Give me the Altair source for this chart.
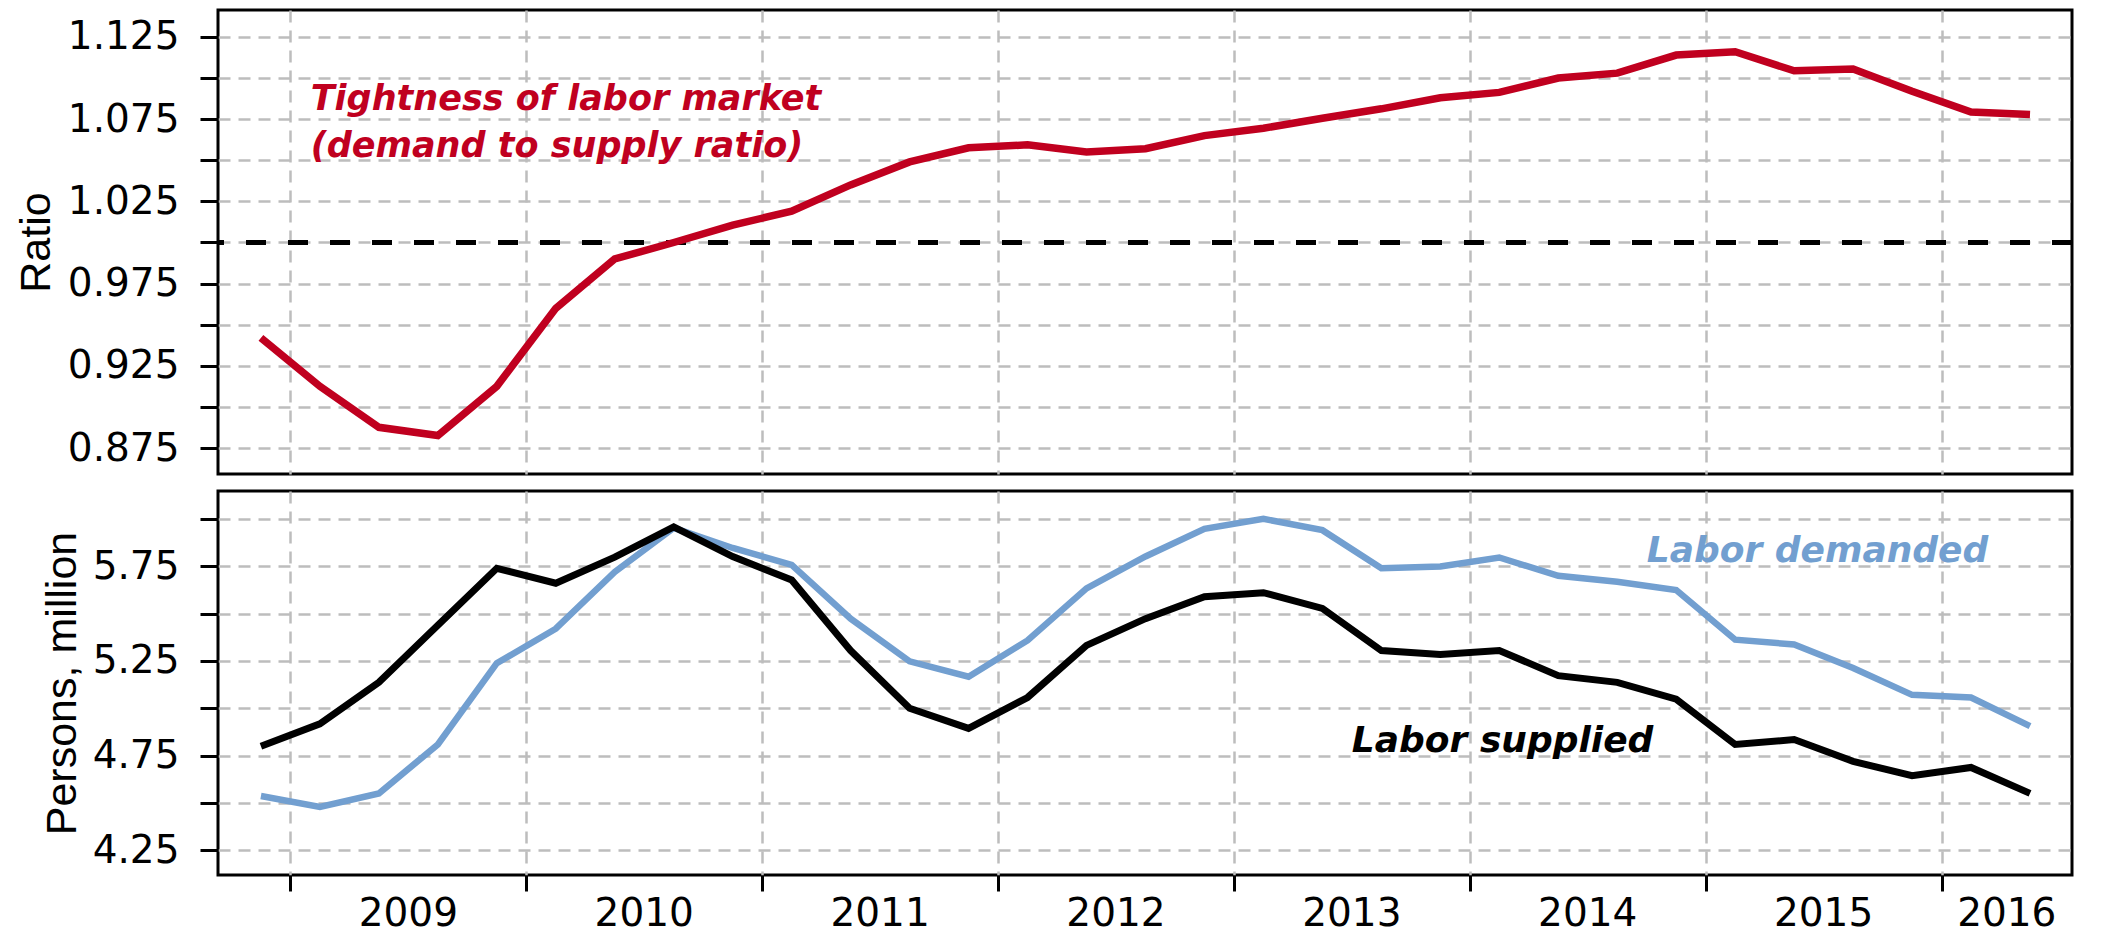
import altair as alt
import pandas as pd

# ---------------- data ----------------
quarters = ["2008Q4",
            "2009Q1", "2009Q2", "2009Q3", "2009Q4",
            "2010Q1", "2010Q2", "2010Q3", "2010Q4",
            "2011Q1", "2011Q2", "2011Q3", "2011Q4",
            "2012Q1", "2012Q2", "2012Q3", "2012Q4",
            "2013Q1", "2013Q2", "2013Q3", "2013Q4",
            "2014Q1", "2014Q2", "2014Q3", "2014Q4",
            "2015Q1", "2015Q2", "2015Q3", "2015Q4",
            "2016Q1", "2016Q2"]

ratio = [0.942,
         0.9125, 0.8876, 0.8826, 0.9125,
         0.960, 0.990, 1.000, 1.0106,
         1.019, 1.035, 1.049, 1.0576,
         1.0594, 1.055, 1.057, 1.065,
         1.0695, 1.0756, 1.0813, 1.088,
         1.0913, 1.100, 1.103, 1.114,
         1.116, 1.1044, 1.1055, 1.092,
         1.0794, 1.0778]

labor_supplied = [4.80,
                  4.918, 5.137, 5.438, 5.739,
                  5.660, 5.798, 5.957, 5.801,
                  5.677, 5.305, 5.000, 4.894,
                  5.057, 5.332, 5.473, 5.589,
                  5.610, 5.527, 5.305, 5.284,
                  5.305, 5.172, 5.137, 5.048,
                  4.809, 4.835, 4.720, 4.644,
                  4.688, 4.551]

labor_demanded = [4.537,
                  4.480, 4.551, 4.809, 5.238,
                  5.420, 5.720, 5.952, 5.846,
                  5.757, 5.473, 5.248, 5.167,
                  5.358, 5.633, 5.801, 5.947,
                  6.000, 5.940, 5.739, 5.748,
                  5.796, 5.699, 5.668, 5.624,
                  5.362, 5.337, 5.213, 5.071,
                  5.057, 4.906]

year_ticks = [2009, 2010, 2011, 2012, 2013, 2014, 2015, 2016]
x_domain = [2008.693, 2016.553]

ratio_ticks = [0.875, 0.9, 0.925, 0.95, 0.975, 1.0, 1.025, 1.05, 1.075, 1.1, 1.125]
ratio_domain = [0.8592, 1.1414]
ratio_reference = [1.0]

persons_ticks = [4.25, 4.5, 4.75, 5.0, 5.25, 5.5, 5.75, 6.0]
persons_domain = [4.1203, 6.1467]

red_note = ["Tightness of labor market", "(demand to supply ratio)"]
red_note_t = [2009.086, 2009.086]
red_note_v = [1.0806, 1.052]

demand_note = ["Labor demanded"]
demand_note_t = [2014.75]
demand_note_v = [5.772]

supply_note = ["Labor supplied"]
supply_note_t = [2013.50]
supply_note_v = [4.772]

# ---------------- styles ----------------
RED = "#C0001F"
BLUE = "#729FD0"
BLACK = "#000000"
GRID = "#BDBDBD"
FONT = "DejaVu Sans"
TITLE_FONT = "Liberation Sans Narrow, Liberation Sans, sans-serif"
W = 1854
H_TOP = 464
H_BOT = 384


def qpos(q):
    y = int(q[:4])
    n = int(q[-1])
    return y + (n - 1) * 0.25 + 0.125


t_vals = [qpos(q) for q in quarters]

top_df = pd.DataFrame({"t": t_vals, "v": ratio})
bot_df = pd.DataFrame({
    "t": t_vals * 2,
    "v": labor_demanded + labor_supplied,
    "series": ["Labor demanded"] * len(t_vals) + ["Labor supplied"] * len(t_vals),
})
ref_df = pd.DataFrame({"v": ratio_reference})
red_df = pd.DataFrame({"t": red_note_t, "v": red_note_v, "label": red_note})
dem_df = pd.DataFrame({"t": demand_note_t, "v": demand_note_v, "label": demand_note})
sup_df = pd.DataFrame({"t": supply_note_t, "v": supply_note_v, "label": supply_note})

# year label positions: centre of the visible part of each year
ylab_pos = [(max(y, x_domain[0]) + min(y + 1, x_domain[1])) / 2 for y in year_ticks]
ylab_df = pd.DataFrame({"t": ylab_pos, "label": [str(y) for y in year_ticks]})

grid_kw = dict(grid=True, gridColor=GRID, gridDash=[12, 8], gridWidth=2.5)

x_scale = alt.Scale(domain=x_domain, nice=False, zero=False)

x_top = alt.X("t:Q", scale=x_scale,
              axis=alt.Axis(values=year_ticks, labels=False, ticks=False,
                            domain=False, title=None, **grid_kw))
x_bot = alt.X("t:Q", scale=x_scale,
              axis=alt.Axis(values=year_ticks, labels=False, ticks=True,
                            tickSize=16, tickWidth=3, tickColor=BLACK,
                            domain=False, title=None, **grid_kw))

y_axis_common = dict(domain=False, ticks=True, tickSize=18, tickWidth=3,
                     tickColor=BLACK, labelFont=FONT, labelFontSize=39,
                     labelColor=BLACK, labelPadding=21, labelOverlap=False,
                     labelBound=False, titleFont=TITLE_FONT, titleFontSize=43,
                     titleFontWeight="normal", titleColor=BLACK,
                     titleBaseline="alphabetic", **grid_kw)

y_top = alt.Y("v:Q", scale=alt.Scale(domain=ratio_domain, nice=False, zero=False),
              axis=alt.Axis(values=ratio_ticks, title="Ratio", titleX=-169,
                            labelExpr="abs(round(datum.value*1000) % 50 - 25) < 1 ? format(datum.value, '.3f') : ''",
                            **y_axis_common))
y_bot = alt.Y("v:Q", scale=alt.Scale(domain=persons_domain, nice=False, zero=False),
              axis=alt.Axis(values=persons_ticks, title="Persons, million", titleX=-143,
                            labelExpr="round(datum.value*100) % 50 == 25 ? format(datum.value, '.2f') : ''",
                            **y_axis_common))

# ---------------- top panel ----------------
ref_line = alt.Chart(ref_df).mark_rule(color=BLACK, strokeWidth=5, strokeDash=[20, 22]).encode(y=y_top)
red_line = alt.Chart(top_df).mark_line(color=RED, strokeWidth=7.5, strokeJoin="miter").encode(x=x_top, y=y_top)
red_text = alt.Chart(red_df).mark_text(
    color=RED, font=FONT, fontSize=35, fontStyle="italic", fontWeight="bold",
    align="left", baseline="alphabetic"
).encode(x=x_top, y=y_top, text="label:N")

top = alt.layer(ref_line, red_line, red_text).properties(width=W, height=H_TOP)

# ---------------- bottom panel ----------------
dem_line = alt.Chart(bot_df).transform_filter(alt.datum.series == "Labor demanded").mark_line(
    color=BLUE, strokeWidth=6.5, strokeJoin="miter").encode(x=x_bot, y=y_bot)
sup_line = alt.Chart(bot_df).transform_filter(alt.datum.series == "Labor supplied").mark_line(
    color=BLACK, strokeWidth=7, strokeJoin="miter").encode(x=x_bot, y=y_bot)
dem_text = alt.Chart(dem_df).mark_text(
    color=BLUE, font=FONT, fontSize=36, fontStyle="italic", fontWeight="bold",
    align="left", baseline="alphabetic"
).encode(x=x_bot, y=y_bot, text="label:N")
sup_text = alt.Chart(sup_df).mark_text(
    color=BLACK, font=FONT, fontSize=36, fontStyle="italic", fontWeight="bold",
    align="left", baseline="alphabetic"
).encode(x=x_bot, y=y_bot, text="label:N")
year_text = alt.Chart(ylab_df).mark_text(
    color=BLACK, font=FONT, fontSize=39, align="center", baseline="alphabetic"
).encode(x=x_bot, y=alt.value(H_BOT + 51), text="label:N")

bottom = alt.layer(dem_line, sup_line, dem_text, sup_text, year_text).properties(width=W, height=H_BOT)

chart = alt.vconcat(top, bottom, spacing=13).properties(
    padding={"left": 5, "top": 0, "right": 5, "bottom": 0},
    background="white",
).configure_view(stroke=BLACK, strokeWidth=3)

chart.save("out.html", embed_options={"renderer": "svg", "actions": False})
